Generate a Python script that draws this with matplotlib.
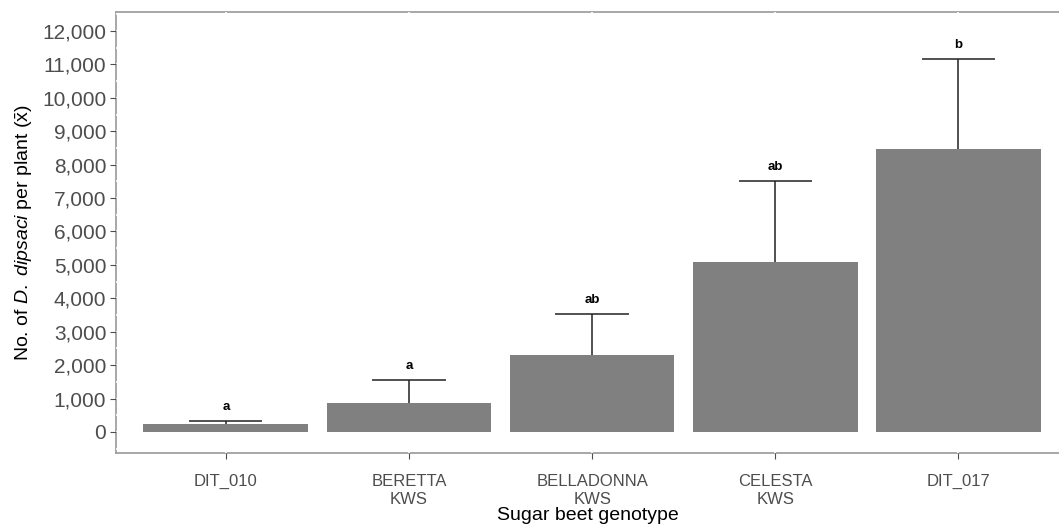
import matplotlib.pyplot as plt
from matplotlib.ticker import FuncFormatter, MultipleLocator

plt.rcParams['font.family'] = ['Liberation Sans', 'DejaVu Sans']
plt.rcParams['mathtext.fontset'] = 'custom'
plt.rcParams['mathtext.rm'] = 'Liberation Sans'
plt.rcParams['mathtext.it'] = 'Liberation Sans:italic'

genotypes = ["DIT_010", "BERETTA\nKWS", "BELLADONNA\nKWS", "CELESTA\nKWS", "DIT_017"]
means = [230, 880, 2300, 5090, 8460]
upper = [340, 1560, 3530, 7515, 11170]
letters = ["a", "a", "ab", "ab", "b"]

fig = plt.figure(figsize=(10.59, 5.27), dpi=100)
ax = fig.add_axes([116 / 1059, 1 - 453 / 527, 943 / 1059, 441 / 527])

x = list(range(len(genotypes)))
ax.bar(x, means, width=0.9, color='#808080', zorder=2)
ax.vlines(x, means, upper, color='#222222', linewidth=1.1, zorder=3)
ax.hlines(upper, [i - 0.2 for i in x], [i + 0.2 for i in x],
          color='#222222', linewidth=1.1, zorder=3)
for i, (u, lab) in enumerate(zip(upper, letters)):
    ax.text(i, u + 230, lab, ha='center', va='bottom', fontsize=9.5,
            fontweight='bold', color='black', zorder=4)

ax.set_xlim(-0.6, 4.55)
ax.set_ylim(-630, 12570)
ax.set_xticks(x)
ax.set_xticklabels(genotypes, fontsize=12, color='#4d4d4d', linespacing=1.3)
ax.yaxis.set_major_locator(MultipleLocator(1000))
ax.yaxis.set_minor_locator(MultipleLocator(500))
ax.yaxis.set_major_formatter(FuncFormatter(lambda v, p: f"{int(v):,}"))
ax.tick_params(axis='y', labelsize=15, labelcolor='#4d4d4d', color='#4d4d4d',
               length=4, width=0.8, pad=3)
ax.tick_params(axis='y', which='minor', length=0)
ax.tick_params(axis='x', color='#4d4d4d', length=4, width=0.8, pad=11)

ax.set_axisbelow(True)
ax.grid(True, which='both', color='white', linewidth=1.2)
for side in ['left', 'bottom', 'top']:
    ax.spines[side].set_color('#a0a0a0')
    ax.spines[side].set_linewidth(1.3)
    ax.spines[side].set_zorder(0.3)
ax.spines['right'].set_visible(False)

ax.set_xlabel("Sugar beet genotype", fontsize=14, labelpad=0)
ax.set_ylabel(r"No. of $\mathit{D.\ dipsaci}$ per plant ($\bar{\mathrm{x}}$)",
              fontsize=14, labelpad=5)

fig.savefig("out.png", dpi=100)
